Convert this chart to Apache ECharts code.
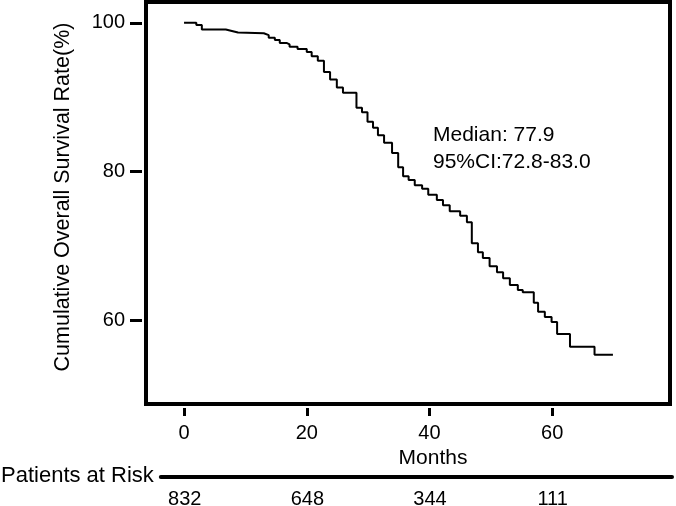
<!DOCTYPE html>
<html>
<head>
<meta charset="utf-8">
<script src="https://cdn.jsdelivr.net/npm/echarts@6/dist/echarts.min.js"></script>
<style>
html,body{margin:0;padding:0;background:#fff;}
#chart{width:676px;height:506px;}
</style>
</head>
<body>
<div id="chart"></div>
<script>
// Kaplan-Meier step points (months, survival %)
const months = [0, 2.0, 2.9, 6.8, 7.8, 8.8, 13.0, 13.8, 14.8, 15.6, 16.7, 17.2, 18.5, 20.0, 20.8, 21.8, 22.8, 23.8, 24.9, 25.9, 28.1, 29.0, 29.9, 30.8, 31.6, 32.6, 33.9, 34.9, 35.7, 36.6, 37.6, 38.8, 39.8, 41.2, 42.2, 43.3, 45.0, 46.1, 46.9, 47.9, 48.7, 49.8, 51.0, 52.0, 53.1, 54.4, 55.2, 57.0, 57.7, 58.8, 59.9, 60.8, 62.9, 66.9, 69.9];
const survival = [100, 99.7, 99.1, 98.9, 98.7, 98.6, 98.35, 98.0, 97.7, 97.3, 97.1, 96.8, 96.5, 96.1, 95.5, 94.9, 93.4, 92.4, 91.3, 90.6, 88.6, 88.0, 86.7, 85.9, 84.9, 83.9, 82.5, 80.6, 79.4, 78.9, 78.2, 77.7, 76.9, 76.2, 75.5, 74.7, 74.1, 73.2, 70.4, 69.2, 68.4, 67.3, 66.5, 65.7, 64.8, 64.1, 63.8, 62.4, 61.2, 60.5, 59.8, 58.2, 56.5, 55.4, 55.4];
const xTicks = [0, 20, 40, 60];
const yTicks = [60, 80, 100];
const atRisk = [832, 648, 344, 111];
const medianText = 'Median: 77.9';
const ciText = '95%CI:72.8-83.0';

const FONT = '"Liberation Sans", Arial, sans-serif';
const chart = echarts.init(document.getElementById('chart'), null, {renderer: 'canvas'});
const kmData = months.map((m, i) => [m, survival[i]]);

chart.setOption({
  animation: false,
  backgroundColor: '#fff',
  textStyle: {fontFamily: FONT, color: '#000'},
  grid: [
    {left: 146, top: 2, right: 6, bottom: 102, show: true, borderColor: '#000', borderWidth: 4, backgroundColor: '#fff'},
    {left: 160, right: 4, top: 476, height: 1, show: false}
  ],
  xAxis: [
    {
      type: 'value', gridIndex: 0, min: -6.2, max: 79.2, position: 'bottom', offset: 4,
      axisLine: {show: false, onZero: false},
      axisTick: {show: true, length: 8, customValues: xTicks, lineStyle: {width: 3, color: '#000'}},
      axisLabel: {customValues: xTicks, margin: 15, fontSize: 20, color: '#000', fontFamily: FONT},
      splitLine: {show: false},
      name: 'Months', nameLocation: 'middle', nameGap: 37,
      nameTextStyle: {fontSize: 21, color: '#000', fontFamily: FONT, padding: [0, 0, 0, 50]}
    },
    {
      type: 'value', gridIndex: 1, min: -3.91, max: 79.48, position: 'bottom',
      axisLine: {show: true, onZero: false, lineStyle: {width: 4, color: '#000'}},
      axisTick: {show: false},
      axisLabel: {customValues: xTicks, margin: 13, fontSize: 20, color: '#000', fontFamily: FONT,
        formatter: v => String(atRisk[xTicks.indexOf(v)])},
      splitLine: {show: false},
      name: 'Patients at Risk', nameLocation: 'start', nameGap: 7,
      nameTextStyle: {fontSize: 22, color: '#000', fontFamily: FONT}
    }
  ],
  yAxis: [
    {
      type: 'value', gridIndex: 0, min: 48.8, max: 102.8, position: 'left', offset: 4,
      axisLine: {show: false, onZero: false},
      axisTick: {show: true, length: 12, customValues: yTicks, lineStyle: {width: 3, color: '#000'}},
      axisLabel: {customValues: yTicks, margin: 17, fontSize: 20, color: '#000', fontFamily: FONT},
      splitLine: {show: false},
      name: 'Cumulative Overall Survival Rate(%)', nameLocation: 'middle', nameRotate: 90, nameGap: 68,
      nameTextStyle: {fontSize: 21.5, color: '#000', fontFamily: FONT, padding: [0, 0, 0, 12]}
    },
    {type: 'value', gridIndex: 1, show: false, min: 0, max: 1}
  ],
  graphic: [
    {type: 'text', left: 433, top: 125, style: {text: medianText, font: '21px "Liberation Sans", Arial, sans-serif', fill: '#000'}},
    {type: 'text', left: 433, top: 152, style: {text: ciText, font: '21px "Liberation Sans", Arial, sans-serif', fill: '#000'}}
  ],
  series: [
    {
      type: 'line', xAxisIndex: 0, yAxisIndex: 0, step: 'end', symbol: 'none',
      lineStyle: {width: 2, color: '#000'}, data: kmData
    }
  ]
});
</script>
</body>
</html>
